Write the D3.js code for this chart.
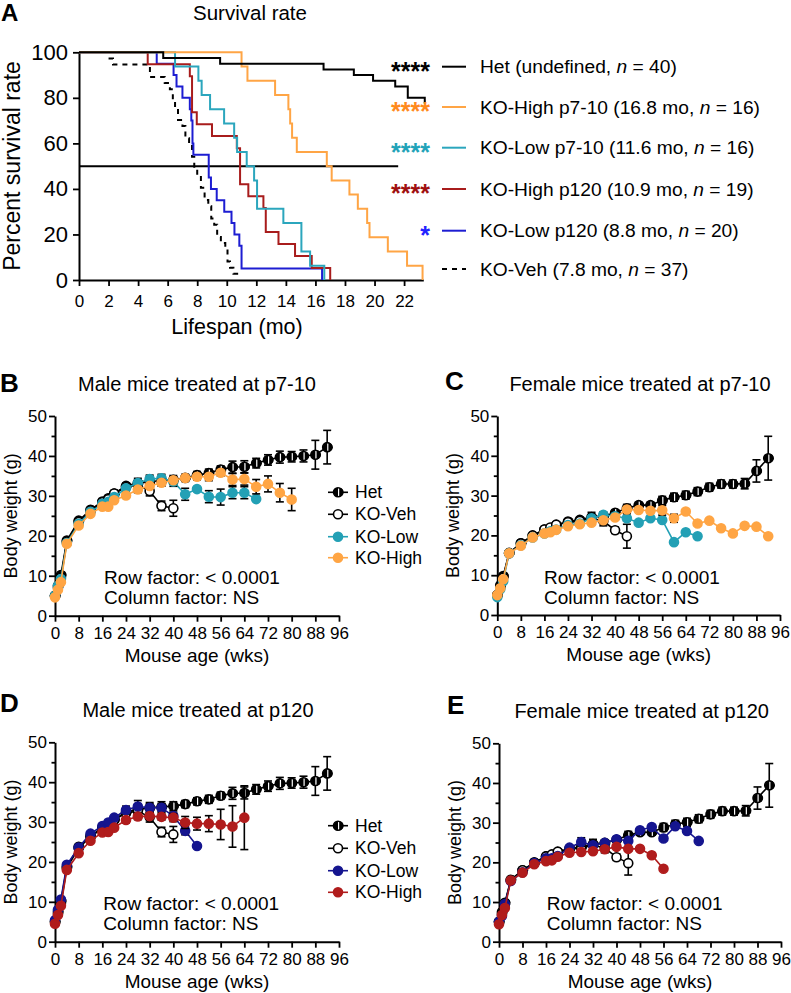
<!DOCTYPE html>
<html><head><meta charset="utf-8">
<script src="https://cdn.jsdelivr.net/npm/d3@7"></script>
<style>body{margin:0;background:#fff}svg{font-family:"Liberation Sans",Arial,Helvetica,sans-serif}</style>
</head><body><svg id="c" width="791" height="993"></svg>
<script>
// ---------- Panel A: survival (step data: [month, percent]) ----------
const survHet     = [[0,100],[5.7,97.5],[9.55,95],[16.55,92.5],[18.6,90],[19.9,87.5],[21.4,85],[22.25,80],[23.4,77.5]];
const survHighP7  = [[0,100],[11.0,93.75],[11.4,87.5],[13.27,81.25],[14.17,75],[14.29,68.75],[14.42,62.5],[14.74,56.25],[16.77,50],[17.1,43.75],[18.3,37.5],[18.87,31.25],[19.5,25],[19.66,18.75],[20.9,12.5],[22.2,6.25],[23.25,0]];
const survLowP7   = [[0,100],[6.5,93.75],[8.08,87.5],[8.3,81.25],[8.87,75],[9.82,68.75],[10.5,62.5],[10.7,56.25],[11.35,50],[11.85,43.75],[12.05,31.25],[13.83,25],[15.05,12.5],[15.64,6.25],[16.6,0]];
const survHighP120= [[0,100],[4.65,94.7],[7.5,89.5],[7.65,73.7],[7.97,68.4],[9.0,63.2],[10.68,57.9],[10.9,42.1],[11.46,36.8],[12.48,31.6],[12.64,21.1],[13.5,15.8],[14.62,10.5],[15.75,5.3],[17.0,0]];
const survLowP120 = [[0,100],[5.26,95],[6.4,90],[6.6,85],[7.0,80],[7.5,75],[7.6,70],[7.68,60],[7.74,55],[8.78,45],[8.93,40],[9.32,35],[9.83,30],[10.32,25],[10.52,20],[10.85,15],[11.0,5],[16.45,0]];
const survVeh     = [[2.0,97.3],[2.3,94.6],[4.8,89.2],[5.8,86.5],[6.15,83.8],[6.35,78.4],[6.5,75.7],[6.7,70.3],[7.0,67.6],[7.2,62.2],[7.45,59.5],[7.65,54.1],[7.8,48.6],[8.0,45.9],[8.25,40.5],[8.5,35.1],[8.75,32.4],[8.95,27.0],[9.15,24.3],[9.35,18.9],[9.6,16.2],[9.9,13.5],[10.05,8.1],[10.22,5.4],[10.45,2.7],[10.8,2.7]];
const survNames   = ["Het","KO-High p7-10","KO-Low p7-10","KO-High p120","KO-Low p120","KO-Veh"];
const survMedians = ["undefined","16.8 mo","11.6 mo","10.9 mo","8.8 mo","7.8 mo"];
const survN       = [40,16,16,19,20,37];
const survStars   = ["****","****","****","****","*",""];
const monthTicks  = [0,2,4,6,8,10,12,14,16,18,20,22];
const pctTicks    = [0,20,40,60,80,100];

// ---------- Panels B-E: body weight ----------
const weeks = [0,1,2,4,8,12,16,18,20,24,28,32,36,40,44,48,52,56,60,64,68,72,76,80,84,88,92];
const wkTicks = [0,8,16,24,32,40,48,56,64,72,80,88,96];
const gTicks = [0,5,10,15,20,25,30,35,40,45,50];

const maleHet      = [5,7.5,10.2,18.8,23.8,26.5,28.6,29.4,30.6,32.5,33.2,33.6,33.8,34.0,34.5,35.2,35.7,36.6,37.2,37.3,38.2,39.0,39.7,39.8,40.0,40.3,42.2];
const maleHetErr   = [0.3,0.4,0.5,0.5,0.5,0.6,0.6,0.6,0.6,0.7,1.2,1.3,1.3,1.1,0.9,0.9,1.0,0.9,1.5,1.5,1.2,1.3,1.5,1.3,1.5,3.6,4.2];
const maleVeh      = [5,7,9.5,18.5,23.5,26.3,28.4,29.2,30.6,32.2,32.8,31.2,27.5,26.9];
const maleVehErr   = [0.3,0.4,0.5,0.5,0.5,0.5,0.6,0.6,0.7,0.8,1.0,1.2,1.2,2.0];
const maleLowP7    = [5,7.5,9.2,18.2,23,26,28,28.5,29.7,31.9,33.2,34.2,34.4,33.6,30.4,31.7,29.8,29.7,30.8,30.8,29.2];
const maleLowP7Err = [0.3,0.4,0.5,0.5,0.5,0.5,0.5,0.5,0.6,0.7,0.8,1.0,1.0,1.2,1.5,0.6,1.5,2.0,1.5,1.5,0.5];
const maleHighP7   = [4.6,6.5,8.4,18,22.6,25.5,27.3,27.3,28.9,30.1,31.6,32.5,33.3,33.9,34.5,34.8,34.8,35.8,34.1,34.2,32.3,33.0,30.8,29.1];
const maleHighP7Err= [0.3,0.4,0.5,0.5,0.5,0.5,0.5,0.5,0.6,0.7,0.8,0.8,0.8,0.8,0.8,0.8,1.0,0.8,1.5,1.5,1.8,2.0,2.3,2.8];
const maleLowP120  = [5.4,8,10.6,19.3,23.6,27.1,29,29.9,31.1,33,33.9,33.6,33.6,31.5,27.8,24.0];
const maleLowP120Err=[0.3,0.4,0.5,0.5,0.5,0.5,0.5,0.5,0.6,1.0,1.5,1.0,1.0,1.0,1.0,0.3];
const maleHighP120 = [4.5,6.7,9,18,22.2,25.3,27.4,27.5,28.6,30.5,31.4,31.5,31.3,31.1,29.9,29.6,29.6,29.4,28.9,31.1];
const maleHighP120Err=[0.3,0.4,0.5,0.5,0.5,0.5,0.5,0.5,0.6,0.7,0.8,0.8,0.8,1.0,1.5,1.6,2.0,3.8,5.2,8.0];

const femHet       = [5,7.5,9.8,15.6,18,19.9,21.5,21.8,22.6,23.5,23.9,24.6,24.9,25.7,26.8,27.6,27.6,28.8,29.6,30.1,31.0,32.1,32.9,32.9,33.0,36.2,39.4];
const femHetErr    = [0.3,0.3,0.4,0.4,0.4,0.4,0.4,0.4,0.5,0.5,0.6,1.2,0.8,0.6,1.0,0.7,0.7,1.0,1.0,1.0,1.0,1.0,1.0,1.0,1.3,2.8,5.5];
const femVeh       = [5,7,9.4,15.5,18,20,21.5,22,22.7,23.3,23.6,24.3,23.6,21.3,19.8];
const femVehErr    = [0.3,0.3,0.4,0.4,0.4,0.4,0.4,0.4,0.5,0.5,0.6,0.8,1.2,0.8,3.0];
const femLowP7     = [4.5,6.5,8.5,15.5,17.5,19.5,20.5,21,21.5,22.6,23,24.3,25.2,24.8,24.3,23.2,24.3,23.9,18.3,20.8,19.8];
const femLowP7Err  = [0.3,0.3,0.4,0.4,0.4,0.4,0.4,0.4,0.5,0.5,0.6,0.7,0.7,0.7,0.7,0.6,0.6,0.6,0.6,0.6,0.6];
const femHighP7    = [5,6.7,9,15.5,17.4,19.5,20.5,20.8,21.4,22.3,22.8,23.2,23.8,24.5,26.5,26.4,26.2,26.3,24.3,26,23,23.7,21.8,20.5,22.4,22.2,19.8];
const femHighP7Err = [0.3,0.3,0.4,0.4,0.4,0.4,0.4,0.4,0.5,0.5,0.6,0.6,0.6,0.6,1.0,0.6,0.6,1.2,1.0,0.3,0.3,0.3,0.3,0.3,0.3,0.3,0.3];
const femLowP120   = [5,6.5,9.5,15.3,17.5,19.8,21,21,21.6,23.7,25.1,24.3,24.9,25.8,25.4,28.1,28.9,26,29.1,27.9,25.4];
const femLowP120Err= [0.3,0.3,0.4,0.4,0.4,0.4,0.4,0.4,0.5,0.5,1.1,0.6,0.6,0.6,0.6,0.6,0.6,0.6,0.6,0.6,0.3];
const femHighP120  = [4.4,6.7,8.5,15.4,17.4,19.5,20.3,20.5,21.4,22.4,22.6,22.8,23.3,23.9,23.4,23.4,21.8,18.4];
const femHighP120Err=[0.3,0.3,0.4,0.4,0.4,0.4,0.4,0.4,0.5,0.5,0.5,0.5,0.5,0.5,0.5,0.5,0.3,0.3];
const weightLegend7  = ["Het","KO-Veh","KO-Low","KO-High"];

const svg = d3.select("#c");
const FONT = '"Liberation Sans",Arial,Helvetica,sans-serif';

function styleAxis(g, fs){
  g.select(".domain").attr("stroke","#000").attr("stroke-width",2);
  g.selectAll(".tick line").attr("stroke","#000").attr("stroke-width",1.8);
  g.selectAll(".tick text").attr("fill","#000").attr("font-size",fs).attr("font-family",FONT);
}

// ================= Panel A =================
(function(){
  const x = d3.scaleLinear().domain([0,23.3]).range([79,423.3]);
  const y = d3.scaleLinear().domain([0,100]).range([280,52.3]);
  svg.append("text").attr("x",1).attr("y",21).attr("font-size",24).attr("font-weight","bold").text("A");
  svg.append("text").attr("x",250).attr("y",20).attr("text-anchor","middle").attr("font-size",20.5).text("Survival rate");
  const gx = svg.append("g").attr("transform","translate(0,280)")
    .call(d3.axisBottom(x).tickValues(monthTicks).tickSize(6).tickSizeOuter(0).tickPadding(9));
  styleAxis(gx,17);
  const gy = svg.append("g").attr("transform","translate(79,0)")
    .call(d3.axisLeft(y).tickValues(pctTicks).tickSize(6).tickSizeOuter(0).tickPadding(5));
  styleAxis(gy,22);
  svg.append("text").attr("x",237).attr("y",334).attr("text-anchor","middle").attr("font-size",21.5).text("Lifespan (mo)");
  svg.append("text").attr("transform","translate(20,166) rotate(-90)").attr("text-anchor","middle").attr("font-size",23).text("Percent survival rate");
  // 50% line
  svg.append("line").attr("x1",x(0)).attr("x2",x(21.6)).attr("y1",y(50)).attr("y2",y(50)).attr("stroke","#000").attr("stroke-width",2);
  const line = d3.line().x(d=>x(d[0])).y(d=>y(d[1])).curve(d3.curveStepAfter);
  const curves = [
    {d:survVeh,c:"#000",dash:"5,5"},
    {d:survLowP120,c:"#1d1dd2"},
    {d:survHighP120,c:"#a81c1c"},
    {d:survLowP7,c:"#2ba6bd"},
    {d:survHighP7,c:"#ffa545"},
    {d:survHet,c:"#000"}
  ];
  curves.forEach(k=>{
    svg.append("path").attr("d",line(k.d)).attr("fill","none").attr("stroke",k.c)
      .attr("stroke-width",2).attr("stroke-dasharray",k.dash||null);
  });
  // legend
  const legC = ["#000","#ffa545","#2ba6bd","#a81c1c","#1d1dd2","#000"];
  const starC = ["#000","#ff8a1c","#22a3b8","#a01010","#2222ff","#000"];
  const rows = [66.7,107,147.7,189,230.7,269];
  survNames.forEach((nm,i)=>{
    const yy = rows[i];
    if(survStars[i]) svg.append("text").attr("x",430).attr("y",yy+13).attr("text-anchor","end")
      .attr("font-size",25).attr("font-weight","bold").attr("fill",starC[i]).text(survStars[i]);
    svg.append("line").attr("x1",442).attr("x2",466).attr("y1",yy).attr("y2",yy)
      .attr("stroke",legC[i]).attr("stroke-width",2).attr("stroke-dasharray",i===5?"5,5":null);
    const t = svg.append("text").attr("x",480).attr("y",yy).attr("dy","0.35em").attr("font-size",19.2);
    t.append("tspan").text(`${nm} (${survMedians[i]}, `);
    t.append("tspan").attr("font-style","italic").text("n");
    t.append("tspan").text(` = ${survN[i]})`);
  });
})();

// ================= Weight panels =================
function hetMarker(g, cx, cy, r){
  g.append("circle").attr("cx",cx).attr("cy",cy).attr("r",r).attr("fill","#fff").attr("stroke","#000").attr("stroke-width",1.6);
  g.append("path").attr("d",`M${cx},${cy-r} A${r},${r} 0 0 0 ${cx},${cy+r} Z`).attr("fill","#000");
  g.append("path").attr("d",`M${cx+1.2},${cy-r} A${r},${r} 0 0 1 ${cx+1.2},${cy+r} Z`).attr("fill","#000");
}

function weightPanel(p){
  const x = d3.scaleLinear().domain([0,96]).range([p.left,p.right]);
  const y = d3.scaleLinear().domain([0,50]).range([p.bottom,p.top]);
  svg.append("text").attr("x",p.letterX).attr("y",p.letterY).attr("font-size",26).attr("font-weight","bold").text(p.letter);
  svg.append("text").attr("x",p.titleX).attr("y",p.titleY).attr("text-anchor","middle").attr("font-size",20).text(p.title);
  const gx = svg.append("g").attr("transform",`translate(0,${p.bottom})`)
    .call(d3.axisBottom(x).tickValues(wkTicks).tickSize(6).tickSizeOuter(0).tickPadding(5));
  styleAxis(gx,17);
  const gy = svg.append("g").attr("transform",`translate(${p.left},0)`)
    .call(d3.axisLeft(y).tickValues(gTicks).tickFormat(d=>d%10===0?d:"").tickSize(6).tickSizeOuter(0).tickPadding(2));
  styleAxis(gy,17);
  gy.selectAll(".tick").filter(d=>d%10!==0).select("line").attr("x2",-3.5);
  svg.append("text").attr("x",(p.left+p.right)/2).attr("y",p.bottom+46).attr("text-anchor","middle").attr("font-size",19).text("Mouse age (wks)");
  svg.append("text").attr("transform",`translate(${p.left-38},${(p.top+p.bottom)/2}) rotate(-90)`).attr("text-anchor","middle").attr("font-size",18).text("Body weight (g)");
  svg.append("text").attr("x",p.annX).attr("y",p.bottom-38).attr("dy","0.35em").attr("font-size",19).text("Row factor: < 0.0001");
  svg.append("text").attr("x",p.annX).attr("y",p.bottom-18).attr("dy","0.35em").attr("font-size",19).text("Column factor: NS");
  const line = d3.line().x(d=>x(d[0])).y(d=>y(d[1]));
  p.series.forEach(s=>{
    const pts = s.v.map((v,i)=>[weeks[i],v,s.e[i]]);
    const g = svg.append("g");
    g.append("path").attr("d",line(pts)).attr("fill","none").attr("stroke",s.c).attr("stroke-width",1.6);
    pts.forEach(d=>{
      if(d[2]>0.6){
        const x0=x(d[0]), y1=y(d[1]+d[2]), y2=y(d[1]-d[2]);
        g.append("line").attr("x1",x0).attr("x2",x0).attr("y1",y1).attr("y2",y2).attr("stroke","#000").attr("stroke-width",1.6);
        [y1,y2].forEach(yy=>g.append("line").attr("x1",x0-4).attr("x2",x0+4).attr("y1",yy).attr("y2",yy).attr("stroke","#000").attr("stroke-width",1.6));
      }
    });
    pts.forEach(d=>{
      if(s.het) hetMarker(g,x(d[0]),y(d[1]),4.5);
      else g.append("circle").attr("cx",x(d[0])).attr("cy",y(d[1])).attr("r",4.5)
        .attr("fill",s.open?"#fff":s.c).attr("stroke",s.open?"#000":s.c).attr("stroke-width",1.6);
    });
  });
  if(p.legend){
    p.series.forEach((s,i)=>{
      const yy = p.legY[i];
      const g = svg.append("g");
      g.append("line").attr("x1",p.legX-10).attr("x2",p.legX+10).attr("y1",yy).attr("y2",yy).attr("stroke",s.c).attr("stroke-width",1.6);
      if(s.het) hetMarker(g,p.legX,yy,4.5);
      else g.append("circle").attr("cx",p.legX).attr("cy",yy).attr("r",4.5).attr("fill",s.open?"#fff":s.c).attr("stroke",s.open?"#000":s.c).attr("stroke-width",1.6);
      g.append("text").attr("x",p.legX+17).attr("y",yy).attr("dy","0.35em").attr("font-size",17.5).text(weightLegend7[i]);
    });
  }
}

const TEAL="#23a0b5", ORANGE="#ffa544", NAVY="#15158f", RED="#b01c1c";
weightPanel({letter:"B",letterX:0,letterY:392,title:"Male mice treated at p7-10",titleX:197,titleY:391,
  left:55,right:339,top:416,bottom:615.7,annX:104,legend:true,legX:338,legY:[492.3,514.3,536.7,557.7],
  series:[{v:maleHet,e:maleHetErr,c:"#000",het:true},{v:maleVeh,e:maleVehErr,c:"#000",open:true},
          {v:maleLowP7,e:maleLowP7Err,c:TEAL},{v:maleHighP7,e:maleHighP7Err,c:ORANGE}]});
weightPanel({letter:"C",letterX:445,letterY:390,title:"Female mice treated at p7-10",titleX:640,titleY:391,
  left:497.3,right:780,top:416,bottom:615,annX:544,legend:false,
  series:[{v:femHet,e:femHetErr,c:"#000",het:true},{v:femVeh,e:femVehErr,c:"#000",open:true},
          {v:femLowP7,e:femLowP7Err,c:TEAL},{v:femHighP7,e:femHighP7Err,c:ORANGE}]});
weightPanel({letter:"D",letterX:0,letterY:712,title:"Male mice treated at p120",titleX:198,titleY:717,
  left:55,right:339,top:742.3,bottom:941.7,annX:103.3,legend:true,legX:338,legY:[825.7,848.3,870.7,892.3],
  series:[{v:maleHet,e:maleHetErr,c:"#000",het:true},{v:maleVeh,e:maleVehErr,c:"#000",open:true},
          {v:maleLowP120,e:maleLowP120Err,c:NAVY},{v:maleHighP120,e:maleHighP120Err,c:RED}]});
weightPanel({letter:"E",letterX:447,letterY:714,title:"Female mice treated at p120",titleX:641.7,titleY:718,
  left:499,right:781,top:743.3,bottom:941.7,annX:546.7,legend:false,
  series:[{v:femHet,e:femHetErr,c:"#000",het:true},{v:femVeh,e:femVehErr,c:"#000",open:true},
          {v:femLowP120,e:femLowP120Err,c:NAVY},{v:femHighP120,e:femHighP120Err,c:RED}]});
</script></body></html>
